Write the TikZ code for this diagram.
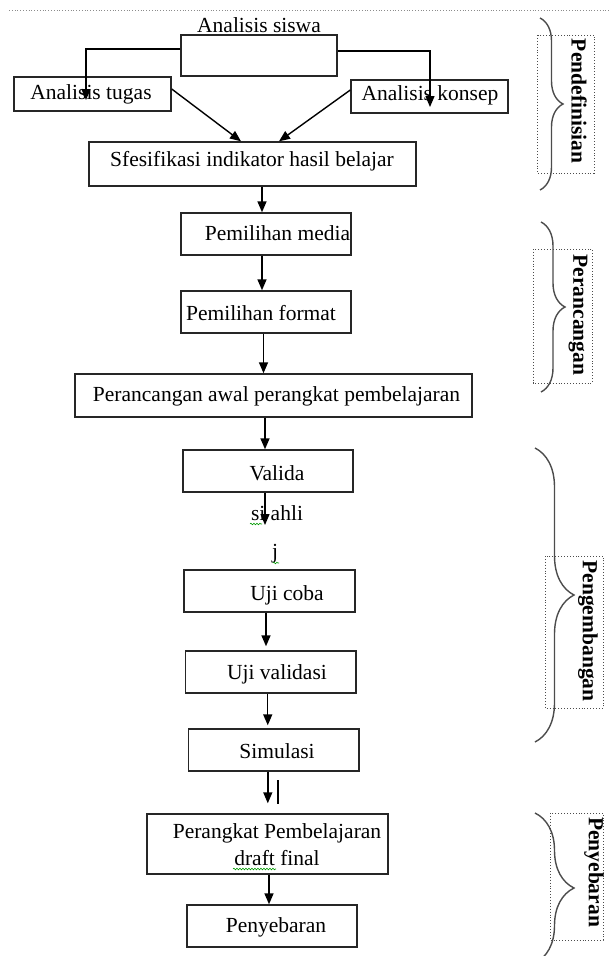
\documentclass[tikz,border=0pt]{standalone}
\usepackage{fontspec}
\setmainfont{Liberation Serif}
\usetikzlibrary{arrows.meta,decorations.pathreplacing,decorations.pathmorphing}
\begin{document}
\begin{tikzpicture}[x=1pt,y=-1pt,
  box/.style={draw=black!85, line width=1.4pt, inner sep=0pt},
  txt/.style={font=\fontsize{21.5}{26}\selectfont, inner sep=0pt, anchor=base},
  side/.style={font=\fontsize{21.5}{26}\selectfont\bfseries, inner sep=0pt, rotate=-90},
  arr/.style={line width=1.4pt, -{Triangle[width=9pt,length=11pt]}},
  dotbox/.style={draw=black!70, dotted, line width=0.9pt},
  brc/.style={draw=black!70, line width=1.4pt, decorate, decoration={brace, amplitude=#1, aspect=0.5}},
  squig/.style={draw=green!60!black, line width=0.6pt, decorate, decoration={snake, segment length=3pt, amplitude=0.8pt}}
]
\useasboundingbox (0,0) rectangle (609,956);
\draw[draw=black!45, dotted, line width=0.8pt] (9,10) -- (609,10);

% boxes
\node[box, minimum width=156pt, minimum height=41pt] (siswa) at (259,55.5) {};
\node[txt] (siswat) at (259,32) {Analisis siswa};
\node[box, minimum width=157pt, minimum height=34pt] (tugas) at (92.5,94) {};
\node[txt] (tugast) at (91,99) {Analisis tugas};
\node[box, minimum width=157pt, minimum height=33pt] (konsep) at (429.5,96.5) {};
\node[txt] (konsept) at (430,100) {Analisis konsep};
\node[box, minimum width=327pt, minimum height=44pt] (sfes) at (252.5,164) {};
\node[txt] (sfest) at (252,166) {Sfesifikasi indikator hasil belajar};
\node[box, minimum width=170pt, minimum height=42pt] (media) at (266,234) {};
\node[txt] (mediat) at (277.5,240) {Pemilihan media};
\node[box, minimum width=170pt, minimum height=42pt] (format) at (266,312) {};
\node[txt] (formatt) at (261,320) {Pemilihan format};
\node[box, minimum width=397pt, minimum height=43pt] (peranc) at (273.5,395.5) {};
\node[txt] (peranct) at (276.5,401) {Perancangan awal perangkat pembelajaran};
\node[box, minimum width=170pt, minimum height=42pt] (valida) at (268,471) {};
\node[txt] (validat) at (277,480) {Valida};
\node[txt] (ahli) at (277,520) {si ahli};
\node[txt] (jt) at (275,558) {j};
\node[box, minimum width=171pt, minimum height=42pt] (ujicoba) at (269.5,591) {};
\node[txt] (ujicobat) at (287,600) {Uji coba};
\node[box, minimum width=170.5pt, minimum height=42pt] (ujival) at (270.75,672) {};
\node[txt] (ujivalt) at (277,679) {Uji validasi};
\node[box, minimum width=170.5pt, minimum height=42pt] (simul) at (273.8,750) {};
\node[txt] (simult) at (277,758) {Simulasi};
\node[box, minimum width=241pt, minimum height=60pt] (perangkat) at (267.5,844) {};
\node[txt] (perangkatt1) at (277,838) {Perangkat Pembelajaran};
\node[txt] (perangkatt2) at (277,865) {draft final};
\node[box, minimum width=170pt, minimum height=42pt] (penyeb) at (272,926) {};
\node[txt] (penyebt) at (276,932) {Penyebaran};

% squiggles
\draw[squig] (250,524) -- (262,524);
\draw[squig] (233,869) -- (276,869);
\draw[squig] (273,563) -- (279,563);

% connectors
\coordinate (ta) at (86,100);
\coordinate (ka) at (430,107);
\draw[arr] ([yshift=6.5pt]siswa.west) -| (ta);
\draw[arr] ([yshift=4.5pt]siswa.east) -| (ka);
\draw[arr] ([yshift=5pt]tugas.east) -- ([xshift=-11.5pt]sfes.north);
\draw[arr] ([yshift=6.5pt]konsep.west) -- ([xshift=26.5pt]sfes.north);
\draw[arr] ([xshift=9.5pt]sfes.south) -- ([xshift=9.5pt]sfes.south |- media.north);
\draw[arr] ([xshift=-4pt]media.south) -- ([xshift=-4pt]media.south |- format.north);
\draw[arr] ([xshift=-2.5pt]format.south) -- ([xshift=-2.5pt]format.south |- peranc.north);
\draw[arr] ([xshift=-8.5pt]peranc.south) -- ([xshift=-8.5pt]peranc.south |- valida.north);
\coordinate (vend) at (265,525);
\draw[arr] (valida.south -| vend) -- (vend);
\draw[arr, shorten >=4pt] ([xshift=-3.5pt]ujicoba.south) -- ([xshift=-3.5pt]ujicoba.south |- ujival.north);
\draw[arr, shorten >=3pt] ([xshift=-3pt]ujival.south) -- ([xshift=-3pt]ujival.south |- simul.north);
\draw[arr, shorten >=10pt] ([xshift=-6pt]simul.south) -- ([xshift=-6pt]simul.south |- perangkat.north);
\draw[line width=2.4pt] (278,780) -- (278,804);
\draw[arr] ([xshift=1.5pt]perangkat.south) -- ([xshift=1.5pt]perangkat.south |- penyeb.north);

% side groups
\draw[dotbox] (537,35) rectangle (594,173);
\draw[dotbox] (533,249) rectangle (592,383);
\draw[dotbox] (545,556) rectangle (603,708);
\draw[dotbox] (550,813) rectangle (603,940);
\node[side] (l1) at (579,101) {Pendefinisian};
\node[side] (l2) at (578,315) {Perancangan};
\node[side] (l3) at (588,631) {Pengembangan};
\node[side] (l4) at (594,872) {Penyebaran};
\draw[brc=23pt] (540,18) -- (540,190);
\draw[brc=24pt] (541,222) -- (541,392);
\draw[brc=39pt] (535,448) -- (535,742);
\draw[brc=39pt] (535,813) -- (535,963);
\end{tikzpicture}
\end{document}
